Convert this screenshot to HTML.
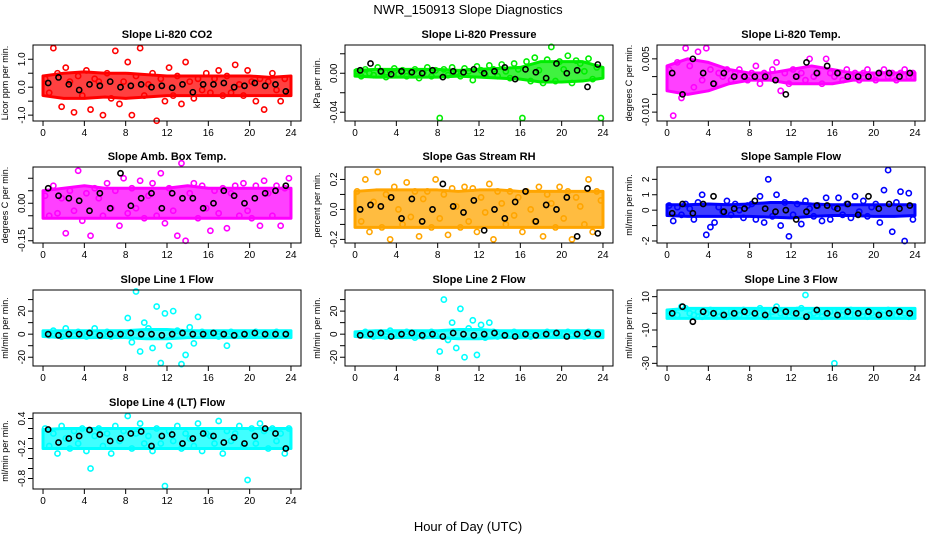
<!DOCTYPE html>
<html><head><meta charset="utf-8"><style>
body{margin:0;background:#fff;}
svg{display:block;font-family:"Liberation Sans",sans-serif;}
</style></head><body>
<svg id="chart" width="936" height="540" viewBox="0 0 936 540" xmlns="http://www.w3.org/2000/svg">
<rect width="936" height="540" fill="#fff"/>
<text x="468" y="14" text-anchor="middle" font-size="13">NWR_150913  Slope Diagnostics</text>
<text x="468" y="531" text-anchor="middle" font-size="13">Hour of Day (UTC)</text>
</svg>
<script>
const hoursColor=[0.2,0.6,1.0,1.4,1.8,2.2,2.6,3.0,3.4,3.8,4.2,4.6,5.0,5.4,5.8,6.2,6.6,7.0,7.4,7.8,8.2,8.6,9.0,9.4,9.8,10.2,10.6,11.0,11.4,11.8,12.2,12.6,13.0,13.4,13.8,14.2,14.6,15.0,15.4,15.8,16.2,16.6,17.0,17.4,17.8,18.2,18.6,19.0,19.4,19.8,20.2,20.6,21.0,21.4,21.8,22.2,22.6,23.0,23.4,23.8];
const hoursBlack=[0.5,1.5,2.5,3.5,4.5,5.5,6.5,7.5,8.5,9.5,10.5,11.5,12.5,13.5,14.5,15.5,16.5,17.5,18.5,19.5,20.5,21.5,22.5,23.5];
const bandHours=[0,2,4,6,8,10,12,14,16,18,20,22,24];
const xTicks=[0,4,8,12,16,20,24];

const co2Vals=[0.3,-0.2,1.4,0.5,-0.7,0.7,0.2,-0.9,0.4,-0.3,0.6,-0.8,0.3,0.2,-1.0,0.5,-0.4,1.3,-0.6,0.2,0.9,-1.0,0.4,1.4,-0.3,0.1,0.5,-1.2,0.3,-0.5,0.7,-0.3,0.4,-0.6,0.9,0.2,-0.4,0.3,-0.1,0.5,-0.2,0.3,0.6,-0.3,0.4,-0.2,0.8,0.1,-0.3,0.6,0.2,-0.5,0.3,-0.8,0.2,0.5,-0.1,-0.5,0.3,-0.2];
const co2Black=[0.15,0.35,0.1,-0.1,0.1,0.05,0.2,0.0,0.05,0.1,0.0,0.05,-0.02,0.1,-0.18,0.1,0.1,0.15,0.0,0.05,0.15,0.05,0.1,-0.15];
const co2Low=[-0.3,-0.4,-0.4,-0.35,-0.4,-0.35,-0.3,-0.3,-0.3,-0.3,-0.3,-0.3,-0.3];
const co2High=[0.4,0.5,0.55,0.5,0.5,0.45,0.4,0.4,0.4,0.4,0.4,0.35,0.4];

const presVals=[0.002,-0.003,0.004,0.000,-0.002,0.006,0.001,-0.004,0.002,0.005,-0.001,0.003,-0.003,0.002,0.004,-0.005,0.001,0.006,-0.003,0.003,-0.046,0.004,-0.002,0.006,0.001,-0.003,0.005,0.002,-0.007,0.007,0.003,-0.002,0.008,0.004,-0.003,0.009,0.002,-0.005,0.010,0.004,-0.046,0.012,-0.008,0.016,0.003,-0.010,0.014,0.027,-0.008,0.012,0.004,0.018,-0.010,0.013,0.010,0.002,0.015,-0.006,0.006,-0.046];
const presBlack=[0.003,0.010,0.002,-0.001,0.002,0.001,0.000,0.003,-0.004,0.002,0.001,0.004,0.000,0.002,0.006,-0.006,0.004,0.001,-0.005,0.010,0.000,0.003,-0.014,0.009];
const presLow=[-0.003,-0.004,-0.004,-0.004,-0.004,-0.003,-0.004,-0.005,-0.006,-0.009,-0.009,-0.008,-0.005];
const presHigh=[0.003,0.004,0.004,0.004,0.004,0.003,0.004,0.005,0.006,0.012,0.012,0.012,0.006];

const tempVals=[0.002,-0.011,0.004,-0.006,0.008,0.003,-0.003,0.007,-0.001,0.008,0.002,-0.002,0.001,0.000,0.002,-0.001,0.001,0.002,0.000,-0.001,0.001,0.003,-0.002,0.001,0.000,0.002,0.004,-0.004,0.001,-0.002,0.002,0.000,0.001,-0.001,0.005,0.000,0.001,-0.002,0.005,0.001,0.000,0.001,-0.001,0.002,0.000,0.001,-0.001,0.001,0.002,0.000,-0.001,0.001,0.002,0.000,0.001,-0.001,0.001,0.002,0.000,0.001];
const tempBlack=[0.001,-0.005,0.005,0.001,-0.002,0.001,0.000,0.000,0.000,0.000,-0.001,-0.005,0.000,0.004,0.001,0.003,0.001,0.000,0.000,0.000,0.001,0.001,0.000,0.001];
const tempLow=[-0.004,-0.005,-0.004,-0.002,-0.001,-0.001,-0.002,-0.002,-0.002,-0.001,-0.001,-0.001,-0.001];
const tempHigh=[0.003,0.005,0.004,0.002,0.001,0.001,0.002,0.003,0.002,0.001,0.001,0.001,0.001];

const boxVals=[0.03,-0.05,0.07,-0.04,0.02,-0.12,0.05,-0.03,0.13,-0.07,0.04,-0.13,0.06,0.02,-0.05,0.08,-0.02,0.05,-0.09,0.10,-0.04,0.06,-0.02,0.09,-0.06,0.03,0.08,-0.05,0.12,-0.08,0.06,-0.03,-0.13,0.16,-0.15,0.04,0.08,-0.06,0.07,-0.02,-0.11,0.05,-0.04,0.06,-0.10,0.04,0.07,-0.05,0.08,-0.03,-0.06,0.07,-0.09,0.09,0.04,-0.05,0.07,-0.09,0.06,0.10];
const boxBlack=[0.06,0.03,0.02,0.01,-0.03,0.04,-0.02,0.12,-0.01,0.02,0.04,-0.02,0.04,0.02,0.02,-0.02,0.00,0.05,0.03,0.00,0.02,0.04,0.05,0.07];
const boxLow=[-0.06,-0.06,-0.06,-0.06,-0.06,-0.06,-0.06,-0.06,-0.06,-0.06,-0.06,-0.06,-0.06];
const boxHigh=[0.05,0.06,0.07,0.06,0.06,0.06,0.06,0.07,0.06,0.06,0.06,0.06,0.06];

const rhVals=[0.12,-0.08,0.2,-0.15,0.05,0.25,-0.12,0.1,-0.2,0.15,0.0,-0.1,0.18,-0.05,0.12,-0.18,0.07,0.12,-0.12,0.2,-0.06,0.1,-0.17,0.14,0.02,-0.12,0.15,-0.08,0.14,-0.15,0.08,-0.02,0.17,-0.2,0.12,0.04,-0.1,0.12,-0.04,0.08,-0.15,0.12,0.0,-0.08,0.15,-0.18,0.1,0.04,-0.12,0.15,-0.06,0.12,-0.2,0.08,0.02,-0.1,0.2,-0.15,0.12,0.06];
const rhBlack=[0.0,0.03,0.02,0.08,-0.06,0.07,-0.08,0.0,0.17,0.02,-0.02,0.06,-0.14,0.0,-0.06,0.05,0.12,-0.08,0.03,0.0,0.08,-0.18,0.14,-0.16];
const rhLow=[-0.12,-0.12,-0.12,-0.12,-0.12,-0.12,-0.12,-0.12,-0.12,-0.12,-0.12,-0.12,-0.12];
const rhHigh=[0.12,0.13,0.13,0.13,0.13,0.12,0.13,0.13,0.12,0.12,0.12,0.12,0.12];

const flowVals=[0.3,-0.7,0.2,-0.3,0.4,0.1,-0.6,0.5,1.0,-1.6,-1.1,-0.8,0.2,-0.1,0.6,-0.3,0.4,0.0,-0.5,0.3,0.4,-0.6,0.9,-0.8,2.0,-0.4,1.0,-1.0,0.5,-1.7,-0.3,0.4,-0.9,0.6,0.1,-0.4,0.3,-0.7,0.8,-0.6,0.2,0.8,-0.3,0.4,-0.5,0.9,-0.1,0.6,-0.4,0.2,0.4,-0.8,1.3,2.6,-1.4,0.5,1.2,-2.0,1.1,-0.6];
const flowBlack=[-0.2,0.4,-0.2,0.4,0.9,-0.1,0.1,0.1,0.6,0.1,-0.1,0.0,-0.6,-0.1,0.3,0.3,0.1,0.4,-0.3,0.9,0.1,0.4,0.1,0.3];
const flowLow=[-0.35,-0.4,-0.4,-0.4,-0.4,-0.45,-0.5,-0.4,-0.35,-0.35,-0.4,-0.4,-0.35];
const flowHigh=[0.35,0.35,0.4,0.35,0.4,0.5,0.5,0.4,0.35,0.35,0.35,0.35,0.35];

const line1Vals=[1,-1,3,0,-2,5,1,-1,2,0,-2,1,5,-1,0,2,-2,1,0,-1,14,-7,37,-15,10,5,-12,24,-25,18,-10,20,3,-26,-18,6,-8,15,2,-1,0,1,-2,0,-10,2,-1,0,1,-1,0,2,-1,1,0,-1,2,0,1,-1];
const line1Black=[0,-1,0,0,1,-1,0,0,1,0,0,-1,0,1,0,0,1,0,-1,0,1,0,0,0];
const line1Low=[-2,-3,-3,-3,-3,-4,-4,-3,-3,-3,-3,-3,-3];
const line1High=[3,3,3,3,3,4,4,3,3,3,3,3,3];

const line2Vals=[0,-1,2,1,-2,0,1,-2,3,0,-1,1,2,-1,-3,1,-2,0,2,-1,-15,30,-5,10,-12,22,-20,5,12,-18,8,-3,10,2,-2,1,-1,0,2,-1,0,1,-2,0,1,-1,2,0,-1,1,0,2,-1,0,1,-2,2,0,1,0];
const line2Black=[-1,0,1,-2,0,1,-1,0,-2,1,0,-1,0,1,-1,-2,0,-1,0,1,-2,0,1,0];
const line2Low=[-2,-3,-3,-3,-3,-4,-4,-3,-3,-3,-3,-3,-3];
const line2High=[2,3,3,3,3,4,4,3,3,3,3,3,3];

const line3Vals=[0,1,-1,4,3,0,-1,1,-2,0,2,-1,1,0,-2,1,0,-1,2,0,1,-1,3,0,-2,1,4,0,-1,1,0,2,3,11,-1,0,1,-2,0,1,-30,1,-1,0,2,-1,0,1,-2,0,1,0,-1,2,0,-1,1,0,-2,0];
const line3Black=[0,4,-5,1,0,-1,0,1,0,-1,2,1,0,-2,2,0,-1,1,0,1,-1,0,1,0];
const line3Low=[-3,-3,-3,-3,-3,-3,-3,-3,-3,-3,-3,-3,-3];
const line3High=[2,3,3,3,3,3,3,3,3,3,3,3,3];

const line4Vals=[0.2,-0.15,0.1,-0.3,0.25,0.0,-0.2,0.15,-0.1,0.2,-0.25,-0.6,0.05,0.2,-0.15,0.1,-0.3,0.25,-0.05,0.15,0.45,-0.2,0.1,0.3,-0.1,0.05,-0.25,0.2,-0.1,-0.95,0.15,-0.05,0.25,-0.2,0.1,0.0,-0.15,0.3,-0.25,0.1,0.05,-0.1,0.35,-0.3,0.15,-0.05,0.1,0.25,-0.15,-0.83,0.2,-0.1,0.3,0.15,-0.2,0.2,-0.05,0.1,-0.3,0.2];
const line4Black=[0.18,-0.08,0.0,0.05,0.17,0.08,-0.05,0.0,0.1,0.14,-0.15,0.05,0.08,-0.1,0.0,0.1,0.05,-0.08,0.02,-0.1,0.05,0.2,0.1,-0.2];
const line4Low=[-0.2,-0.2,-0.2,-0.2,-0.2,-0.2,-0.2,-0.2,-0.2,-0.2,-0.2,-0.2,-0.2];
const line4High=[0.18,0.2,0.2,0.2,0.2,0.2,0.2,0.2,0.2,0.2,0.2,0.2,0.2];

const co2Ticks=[-1,-0.5,0,0.5,1], co2Labels=["-1.0","","0.0","","1.0"];
const presTicks=[-0.04,-0.02,0,0.02], presLabels=["-0.04","","0.00",""];
const tempTicks=[-0.01,-0.005,0,0.005], tempLabels=["-0.010","","","0.005"];
const boxTicks=[-0.15,-0.1,-0.05,0,0.05,0.1], boxLabels=["-0.15","","","0.00","",""];
const rhTicks=[-0.2,-0.1,0,0.1,0.2], rhLabels=["-0.2","","0.0","","0.2"];
const flowTicks=[-2,-1,0,1,2], flowLabels=["-2","","0","1","2"];
const line1Ticks=[-20,-10,0,10,20,30], line1Labels=["-20","","0","","20",""];
const line3Ticks=[-30,-20,-10,0,10], line3Labels=["-30","","-10","","10"];
const line4Ticks=[-0.8,-0.6,-0.4,-0.2,0,0.2,0.4], line4Labels=["-0.8","","","-0.2","","","0.4"];

const panels=[
 {name:"co2",title:"Slope Li-820 CO2",ylab:"Licor ppm per min.",col:0,row:0,ylim:[-1.21,1.51],ticks:co2Ticks,labels:co2Labels,vals:co2Vals,blk:co2Black,lo:co2Low,hi:co2High,color:"#ff0000"},
 {name:"pressure",title:"Slope Li-820 Pressure",ylab:"kPa per min.",col:1,row:0,ylim:[-0.049,0.029],ticks:presTicks,labels:presLabels,vals:presVals,blk:presBlack,lo:presLow,hi:presHigh,color:"#00ee00"},
 {name:"temp",title:"Slope Li-820 Temp.",ylab:"degrees C per min.",col:2,row:0,ylim:[-0.0125,0.0089],ticks:tempTicks,labels:tempLabels,vals:tempVals,blk:tempBlack,lo:tempLow,hi:tempHigh,color:"#ff00ff"},
 {name:"amb-box-temp",title:"Slope Amb. Box Temp.",ylab:"degrees C per min.",col:0,row:1,ylim:[-0.159,0.145],ticks:boxTicks,labels:boxLabels,vals:boxVals,blk:boxBlack,lo:boxLow,hi:boxHigh,color:"#ff00ff"},
 {name:"gas-rh",title:"Slope Gas Stream RH",ylab:"percent per min.",col:1,row:1,ylim:[-0.224,0.283],ticks:rhTicks,labels:rhLabels,vals:rhVals,blk:rhBlack,lo:rhLow,hi:rhHigh,color:"#ffa500"},
 {name:"sample-flow",title:"Slope Sample Flow",ylab:"ml/min per min.",col:2,row:1,ylim:[-2.13,2.8],ticks:flowTicks,labels:flowLabels,vals:flowVals,blk:flowBlack,lo:flowLow,hi:flowHigh,color:"#0000ff"},
 {name:"line1-flow",title:"Slope Line 1 Flow",ylab:"ml/min per min.",col:0,row:2,ylim:[-27.6,38.3],ticks:line1Ticks,labels:line1Labels,vals:line1Vals,blk:line1Black,lo:line1Low,hi:line1High,color:"#00ffff"},
 {name:"line2-flow",title:"Slope Line 2 Flow",ylab:"ml/min per min.",col:1,row:2,ylim:[-27.6,38.3],ticks:line1Ticks,labels:line1Labels,vals:line2Vals,blk:line2Black,lo:line2Low,hi:line2High,color:"#00ffff"},
 {name:"line3-flow",title:"Slope Line 3 Flow",ylab:"ml/min per min.",col:2,row:2,ylim:[-31.6,14],ticks:line3Ticks,labels:line3Labels,vals:line3Vals,blk:line3Black,lo:line3Low,hi:line3High,color:"#00ffff"},
 {name:"line4-flow",title:"Slope Line 4 (LT) Flow",ylab:"ml/min per min.",col:0,row:3,ylim:[-1.01,0.51],ticks:line4Ticks,labels:line4Labels,vals:line4Vals,blk:line4Black,lo:line4Low,hi:line4High,color:"#00ffff"}
];
const NS="http://www.w3.org/2000/svg";
const svg=document.getElementById("chart");
const colLeft=[33,345,657], rowTop=[45,167,290,413], W=268, H=76, XMIN=-0.97, XMAX=24.97;
function mk(tag,attrs,parent){const e=document.createElementNS(NS,tag);for(const k in attrs)e.setAttribute(k,attrs[k]);parent.appendChild(e);return e;}
panels.forEach(p=>{
 const L=colLeft[p.col], T=rowTop[p.row];
 const xs=h=>L+(h-XMIN)/(XMAX-XMIN)*W;
 const ys=v=>T+H-(v-p.ylim[0])/(p.ylim[1]-p.ylim[0])*H;
 const g=mk("g",{},svg);
 
 
 const t=mk("text",{x:L+W/2,y:T-7,"text-anchor":"middle","font-size":"11","font-weight":"bold"},g);
 t.textContent=p.title;
 
 
 const yl=mk("text",{transform:`translate(${L-25},${T+H/2}) rotate(-90)`,"text-anchor":"middle","font-size":"9"},g);
 yl.textContent=p.ylab;
 
 
 let d="";
 bandHours.forEach((h,i)=>{d+=(i?"L":"M")+xs(Math.max(h,-0.3))+","+ys(p.hi[i]);});
 for(let i=bandHours.length-1;i>=0;i--){d+="L"+xs(Math.max(bandHours[i],-0.3))+","+ys(p.lo[i]);}
 const band=mk("path",{d:d+"Z",fill:p.color,"fill-opacity":"0.75",stroke:p.color,"stroke-width":"3","stroke-linejoin":"round"},g);
 
 
 const pts=mk("g",{},g);
 
 
 p.vals.forEach((v,i)=>{
  const c=mk("circle",{cx:xs(hoursColor[i]),cy:ys(v),r:2.6,fill:"none",stroke:p.color,"stroke-width":"1.6"},pts);
  
  
 });
 p.blk.forEach((v,i)=>{
  const c=mk("circle",{cx:xs(hoursBlack[i]),cy:ys(v),r:2.6,fill:"none",stroke:"#000","stroke-width":"1.6"},pts);
  
  
 });
 const box=mk("rect",{x:L,y:T,width:W,height:H,fill:"none",stroke:"#000","stroke-width":"1"},g);
 
 
 xTicks.forEach(h=>{
  mk("line",{x1:xs(h),x2:xs(h),y1:T+H,y2:T+H+5,stroke:"#000"},g);
  const lt=mk("text",{x:xs(h),y:T+H+15,"text-anchor":"middle","font-size":"10"},g);
  lt.textContent=h;
  
  
 });
 p.ticks.forEach((v,i)=>{
  const y=ys(v);
  mk("line",{x1:L-5,x2:L,y1:y,y2:y,stroke:"#000"},g);
  if(!p.labels[i])return;
  const lt=mk("text",{transform:`translate(${L-8},${y}) rotate(-90)`,"text-anchor":"middle","font-size":"10"},g);
  lt.textContent=p.labels[i];
  
  
 });
});
</script>
</body></html>
